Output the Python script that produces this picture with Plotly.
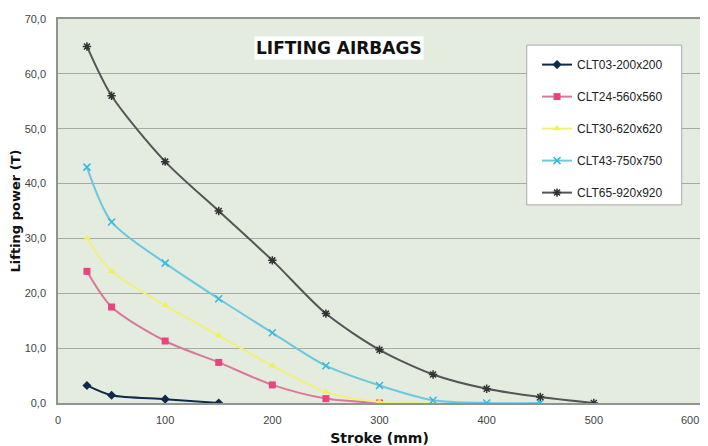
import plotly.graph_objects as go

# ---- data ----
x_clt03 = [27, 50, 100, 150]
y_clt03 = [3.2, 1.4, 0.7, 0.0]

x_clt24 = [27, 50, 100, 150, 200, 250, 300]
y_clt24 = [24.0, 17.5, 11.3, 7.4, 3.3, 0.8, 0.0]

x_clt30 = [27, 50, 100, 150, 200, 250, 300, 350]
y_clt30 = [30.0, 24.0, 17.8, 12.3, 6.8, 2.0, 0.2, 0.0]

x_clt43 = [27, 50, 100, 150, 200, 250, 300, 350, 400, 450]
y_clt43 = [43.0, 33.0, 25.5, 19.0, 12.8, 6.8, 3.2, 0.5, 0.0, 0.0]

x_clt65 = [27, 50, 100, 150, 200, 250, 300, 350, 400, 450, 500]
y_clt65 = [65.0, 56.0, 44.0, 35.0, 26.0, 16.3, 9.7, 5.2, 2.6, 1.1, 0.0]

series_names = ["CLT03-200x200", "CLT24-560x560", "CLT30-620x620",
                "CLT43-750x750", "CLT65-920x920"]

y_tickvals = [0, 10, 20, 30, 40, 50, 60, 70]
y_ticktext = ["0,0", "10,0", "20,0", "30,0", "40,0", "50,0", "60,0", "70,0"]
x_tickvals = [0, 100, 200, 300, 400, 500, 600]
x_ticklabels = ["0", "100", "200", "300", "400", "500", "600"]

styles = [
    dict(line_color="#0f2a48", marker=dict(symbol="diamond", size=7, color="#0f2a48")),
    dict(line_color="#d9799a", marker=dict(symbol="square", size=7, color="#e8457f")),
    dict(line_color="#f2f07c", marker=dict(symbol="triangle-up", size=7, color="#eef060")),
    dict(line_color="#6cc8df", marker=dict(symbol="x-thin-open", size=7, color="#35b8e0",
                                          line=dict(width=1.5, color="#35b8e0"))),
    dict(line_color="#555555", marker=dict(symbol="asterisk-open", size=7, color="#333333",
                                          line=dict(width=1.5, color="#333333"))),
]

xs = [x_clt03, x_clt24, x_clt30, x_clt43, x_clt65]
ys = [y_clt03, y_clt24, y_clt30, y_clt43, y_clt65]

fig = go.Figure()
for i, (name, x, y, st) in enumerate(zip(series_names, xs, ys, styles)):
    fig.add_trace(go.Scatter(
        x=x, y=y, name=name, mode="lines+markers",
        line=dict(color=st["line_color"], width=2, shape="spline", smoothing=0.8),
        marker=st["marker"], legendgroup=str(i),
    ))

# page body has an 8px default margin, so the figure is 8px smaller each way
fig.update_layout(
    width=700, height=438,
    margin=dict(l=50, r=7, t=11, b=43, autoexpand=False),
    paper_bgcolor="white",
    plot_bgcolor="#e3ecdf",
    font=dict(family="Arial, Liberation Sans, sans-serif", size=11, color="#444444"),
    showlegend=True,
    legend=dict(
        x=0.745, y=0.919, xanchor="left", yanchor="top",
        bgcolor="rgba(0,0,0,0)", borderwidth=0,
        font=dict(family="Arial, Liberation Sans, sans-serif", size=12, color="#222222"),
        traceorder="grouped", tracegroupgap=13, itemwidth=30,
    ),
    shapes=[dict(
        type="rect", xref="paper", yref="paper",
        x0=0.729, x1=0.970, y0=0.516, y1=0.932,
        fillcolor="white", line=dict(color="#aaaaaa", width=1), layer="above",
    )],
    annotations=[
        dict(
            text="<b>LIFTING AIRBAGS</b>", x=0.437, y=0.925, xref="paper", yref="paper",
            xanchor="center", yanchor="middle", showarrow=False,
            bgcolor="white", borderpad=1,
            font=dict(family="DejaVu Sans, sans-serif", size=17, color="#111111"),
        ),
        # last x tick label, kept inside the page edge
        dict(
            text=x_ticklabels[-1], x=x_tickvals[-1], y=0, xref="x", yref="paper",
            xanchor="right", yanchor="top", yshift=-9, showarrow=False,
            font=dict(family="Arial, Liberation Sans, sans-serif", size=11, color="#444444"),
        ),
    ],
)

fig.update_xaxes(
    range=[0, 600], tickvals=x_tickvals, ticktext=x_ticklabels[:-1] + [""],
    ticks="", showgrid=False,
    showline=True, linecolor="#8f948f", linewidth=1.5, mirror=True,
    zeroline=False, automargin=False,
    ticklabelstandoff=6,
    title=dict(text="<b>Stroke (mm)</b>", standoff=10,
               font=dict(family="DejaVu Sans, sans-serif", size=14, color="#111111")),
    tickfont=dict(size=11, color="#444444"),
)
fig.update_yaxes(
    range=[0, 70], tickvals=y_tickvals, ticktext=y_ticktext, ticks="",
    showgrid=True, gridcolor="#a3aba3", gridwidth=1.2,
    showline=True, linecolor="#8f948f", linewidth=1.5, mirror=True,
    zeroline=False, automargin=False, ticklabelstandoff=8,
    title=dict(text="<b>Lifting power (T)</b>", standoff=4,
               font=dict(family="DejaVu Sans, sans-serif", size=13, color="#111111")),
    tickfont=dict(size=11, color="#444444"),
)

fig.write_html("out.html")
